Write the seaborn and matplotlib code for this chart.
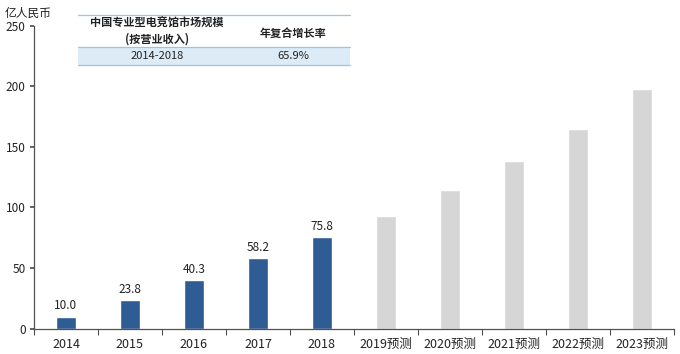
import matplotlib
matplotlib.use("Agg")
import matplotlib.pyplot as plt
import seaborn as sns
import pandas as pd
import numpy as np
from matplotlib.lines import Line2D
from matplotlib.patches import Rectangle

sns.set_theme(style="white")
plt.rcParams['font.family'] = ['Noto Sans CJK SC', 'DejaVu Sans']

categories = ["2014", "2015", "2016", "2017", "2018",
              "2019预测", "2020预测", "2021预测", "2022预测", "2023预测"]
values = [10.0, 23.8, 40.3, 58.2, 75.8, 92.8, 114.3, 138.4, 164.6, 197.6]
kinds = ["实际"] * 5 + ["预测"] * 5
y_ticks = [0, 50, 100, 150, 200, 250]
unit_label = "亿人民币"
table_header = ["中国专业型电竞馆市场规模\n(按营业收入)", "年复合增长率"]
table_row = ["2014-2018", "65.9%"]

df = pd.DataFrame({"cat": categories, "val": values, "kind": kinds})

fig = plt.figure(figsize=(6.8, 3.54), dpi=100)
ax = fig.add_axes([0.05, 0.0715, 0.941, 0.856])

sns.barplot(data=df, x="cat", y="val", hue="kind", dodge=False,
            palette={"实际": "#2F5C93", "预测": "#D6D6D6"},
            width=0.31, legend=False, ax=ax, saturation=1)

ax.bar_label(ax.containers[0], fmt="%.1f", padding=3, fontsize=8.5, color="#222222")

ax.set_ylim(0, 250)
ax.set_yticks(y_ticks)
ax.set_xlim(-0.5, 9.5)
ax.set_xlabel("")
ax.set_ylabel("")
for s in ["top", "right"]:
    ax.spines[s].set_visible(False)
for s in ["left", "bottom"]:
    ax.spines[s].set_color("#505050")
    ax.spines[s].set_linewidth(0.9)
ax.tick_params(axis="y", which="major", left=True, length=3, color="#505050",
               labelsize=8.5, labelcolor="#222222", pad=3)
ax.tick_params(axis="x", which="major", bottom=False, length=0,
               labelsize=9, labelcolor="#222222", pad=7)
ax.set_xticks(np.arange(-0.5, 10, 1.0), minor=True)
ax.tick_params(axis="x", which="minor", bottom=True, length=4, color="#505050", width=0.8)

fig.text(5/680, 1 - 13/354, unit_label, fontsize=8.5, color="#222222", va="center", ha="left")

# Summary table
x0, x1 = 78/680, 350/680
yt, ym, yb = 1 - 15/354, 1 - 47/354, 1 - 65/354
fig.patches.append(Rectangle((x0, yb), x1 - x0, ym - yb, transform=fig.transFigure,
                             facecolor="#DDEBF7", edgecolor="none", zorder=1))
for yy in (yt, ym, yb):
    fig.lines.append(Line2D([x0, x1], [yy, yy], transform=fig.transFigure,
                            color="#9DC3E6", linewidth=0.9, zorder=2))
cx = [157/680, 293/680]
fig.text(cx[0], 1 - 31/354, table_header[0], ha="center", va="center",
         fontsize=8, fontweight="bold", color="#222222", linespacing=1.3)
fig.text(cx[1], 1 - 33/354, table_header[1], ha="center", va="center",
         fontsize=8, fontweight="bold", color="#222222")
fig.text(cx[0], 1 - 56/354, table_row[0], ha="center", va="center",
         fontsize=8, color="#222222")
fig.text(cx[1], 1 - 56/354, table_row[1], ha="center", va="center",
         fontsize=8, color="#222222")

fig.savefig("out.png", dpi=100)
